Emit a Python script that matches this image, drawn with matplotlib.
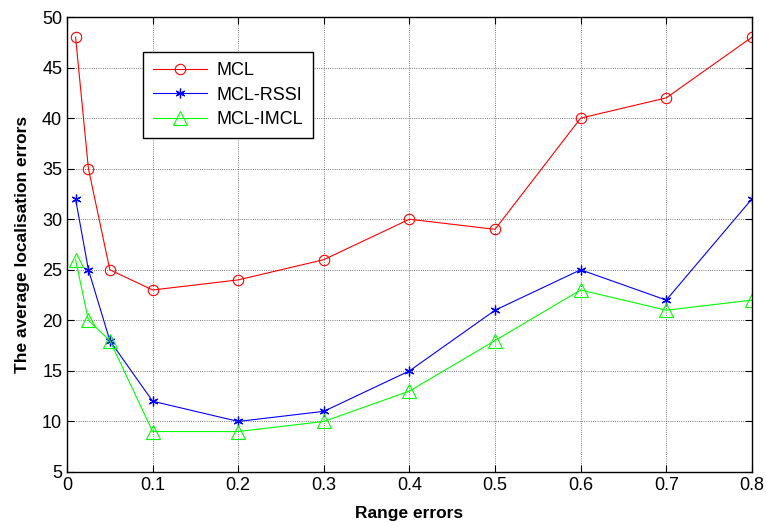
import matplotlib.pyplot as plt

plt.rcParams["font.family"] = ["Liberation Sans", "DejaVu Sans"]

range_errors = [0.01, 0.025, 0.05, 0.1, 0.2, 0.3, 0.4, 0.5, 0.6, 0.7, 0.8]
mcl = [48, 35, 25, 23, 24, 26, 30, 29, 40, 42, 48]
mcl_rssi = [32, 25, 18, 12, 10, 11, 15, 21, 25, 22, 32]
mcl_imcl = [26, 20, 18, 9, 9, 10, 13, 18, 23, 21, 22]

fig = plt.figure(figsize=(7.66, 5.22), dpi=100)
ax = fig.add_axes([0.0875, 0.0958, 0.894, 0.8716])

# asterisk marker like matlab's '*'
star = (6, 2, 0)
ax.plot(range_errors, mcl, "-", marker="o", color="red", lw=0.8, ms=7.5,
        mfc="none", mew=0.8, label="MCL")
ax.plot(range_errors, mcl_rssi, "-", marker=star, color="blue", lw=0.8,
        ms=7, mfc="none", mew=0.9, label="MCL-RSSI")
ax.plot(range_errors, mcl_imcl, "-", marker="^", color="#00ff00", lw=0.8,
        ms=10, mfc="none", mew=0.8, label="MCL-IMCL")

ax.set_xlim(0, 0.8)
ax.set_ylim(5, 50)
ax.set_xticks([0, 0.1, 0.2, 0.3, 0.4, 0.5, 0.6, 0.7, 0.8])
ax.set_xticklabels(["0", "0.1", "0.2", "0.3", "0.4", "0.5", "0.6", "0.7", "0.8"])
ax.set_yticks(range(5, 51, 5))
ax.tick_params(direction="in", labelsize=13, length=5, width=0.8,
               top=True, right=True)
ax.grid(True, color="black", linestyle=":", linewidth=0.6, alpha=0.7)
for s in ax.spines.values():
    s.set_linewidth(1.0)

ax.set_xlabel("Range errors", fontsize=12.5, fontweight="bold", labelpad=9)
ax.set_ylabel("The average localisation errors", fontsize=12.5,
              fontweight="bold", labelpad=9)

leg = ax.legend(loc="upper left", bbox_to_anchor=(0.111, 0.923),
                borderaxespad=0, fontsize=13, fancybox=False,
                edgecolor="black", framealpha=1, borderpad=0.55,
                handlelength=3.0, handletextpad=0.5, labelspacing=0.42)
leg.get_frame().set_linewidth(1.0)

fig.savefig("out.png", dpi=100)
